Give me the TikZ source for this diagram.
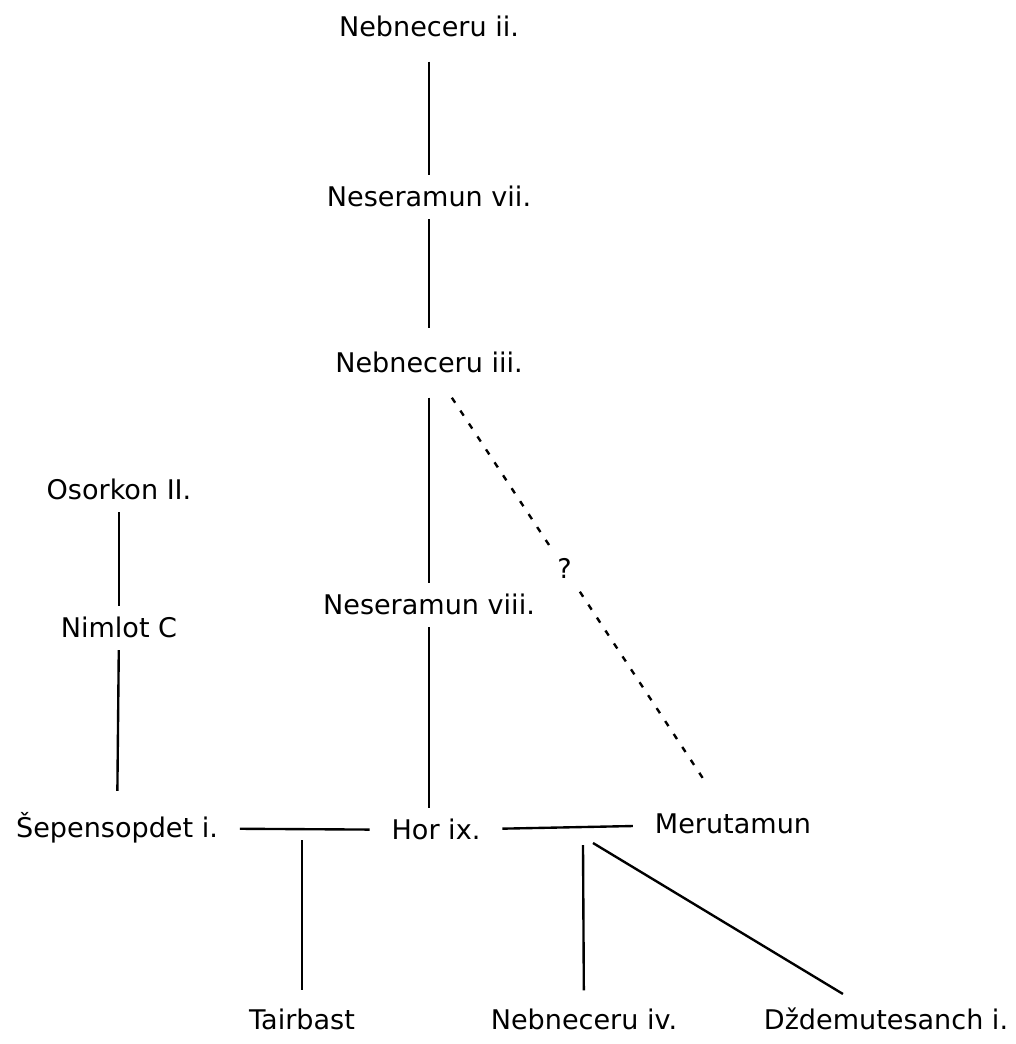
\documentclass[tikz,border=0pt]{standalone}
\usepackage{fontspec}
\setmainfont{DejaVu Sans}
\begin{document}
\begin{tikzpicture}[x=0.02cm,y=-0.02cm,
  person/.style={font=\fontsize{15.4pt}{18pt}\selectfont,inner sep=0pt,text height=11pt,text depth=0pt,outer xsep=0.44cm,outer ysep=0.25cm},
  link/.style={line width=1.35pt},
  unsure/.style={line width=1.35pt,dash pattern=on 0.12cm off 0.19cm}]
\useasboundingbox (0,0) rectangle (1015,1044);
%Labeling persons
\node[person] (nebii) at (429,27) {Nebneceru ii.};
\node[person] (nesvii) at (429,197) {Neseramun vii.};
\node[person] (nebiii) at (429,363) {Nebneceru iii.};
\node[person] (nesviii) at (429,605) {Neseramun viii.};
\node[person] (hor) at (436,830) {Hor ix.};
\node[person] (merut) at (733,824) {Merutamun};
\node[person] (osorkon) at (119,490) {Osorkon II.};
\node[person] (nimlot) at (119,628) {Nimlot C};
\node[person] (sepen) at (117,828) {Šepensopdet i.};
\node[person] (tairbast) at (302,1020) {Tairbast};
\node[person] (nebiv) at (584,1020) {Nebneceru iv.};
\node[person] (dzed) at (886,1020) {Dždemutesanch i.};
%Children hang from these points
\coordinate (m1) at (302,840);
\coordinate (m2) at (583,845);
\coordinate (m3) at (593,843);
%Lines of descent
\draw[link,shorten <=0.25cm] (nebii) -- (nesvii);
\draw[link,shorten >=0.25cm] (nesvii) -- (nebiii);
\draw[link,shorten <=0.25cm] (nebiii) -- (nesviii);
\draw[link] (nesviii) -- (nesviii |- hor.north);
\draw[link] (osorkon) -- (nimlot);
\draw[link,shorten >=0.3cm] (nimlot) -- (sepen);
\draw[link] (sepen) -- (hor);
\draw[link] (hor) -- (merut);
\draw[link,shorten >=0.15cm] (m1) -- (tairbast);
\draw[link,shorten >=0.15cm] (m2) -- (nebiv);
\draw[link,shorten >=0.15cm] (m3) -- (dzed);
\draw[unsure,shorten <=0.3cm,shorten >=0.4cm] (nebiii) -- node[pos=0.44,fill=white,inner sep=4pt,font=\fontsize{15.4pt}{18pt}\selectfont] {?} (merut);
\end{tikzpicture}
\end{document}
